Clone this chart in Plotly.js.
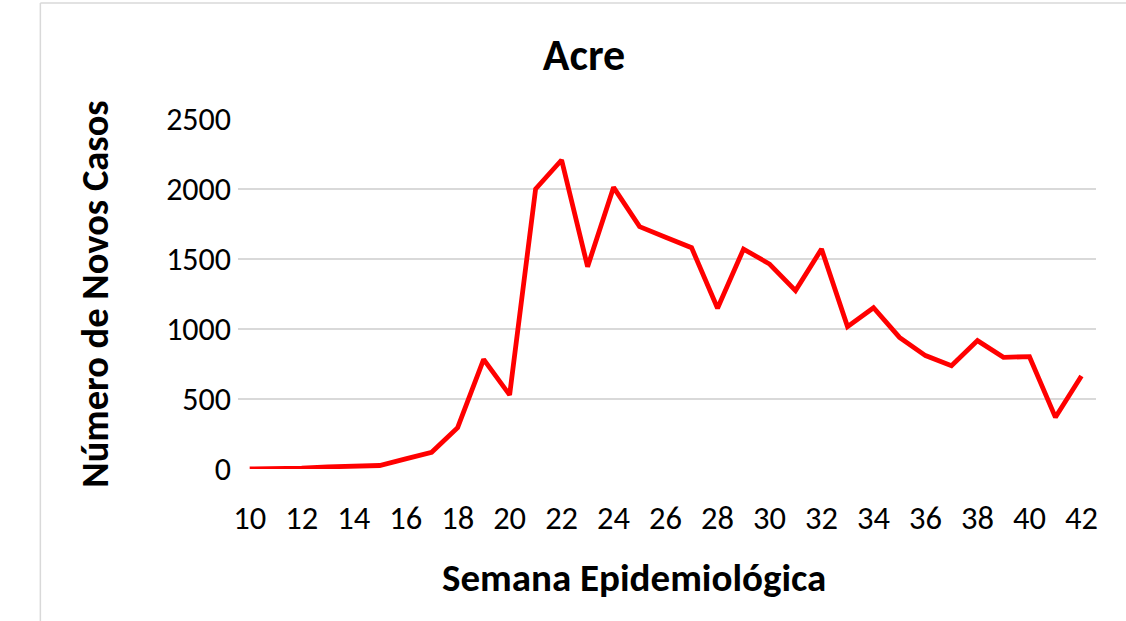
<!DOCTYPE html>
<html>
<head>
<meta charset="utf-8">
<script src="https://cdn.plot.ly/plotly-3.0.1.min.js"></script>
<style>html,body{margin:0;padding:0;background:#fff;}#chart{width:1126px;height:621px;}</style>
</head>
<body>
<div id="chart"></div>
<script>
var semanas = [10,11,12,13,14,15,16,17,18,19,20,21,22,23,24,25,26,27,28,29,30,31,32,33,34,35,36,37,38,39,40,41,42];
var novosCasos = [0,0,6,15,20,25,72,119,295,783,529,2000,2207,1445,2012,1731,1655,1581,1148,1571,1464,1274,1571,1017,1152,940,810,738,917,798,802,369,664];
var tickSemanas = [10,12,14,16,18,20,22,24,26,28,30,32,34,36,38,40,42];
var yTicks = [0,500,1000,1500,2000,2500];

var FONT = "Carlito, Lato, 'Open Sans', sans-serif";
var L = 237.7, R = 1096, T = 119, B = 469, W = 1126, H = 621;
var pw = R - L, ph = B - T;
function px2x(p){ return (p - L) / pw; }
function py2y(p){ return 1 - (p - T) / ph; }

var trace = {
  x: semanas, y: novosCasos, type: 'scatter', mode: 'lines',
  line: {color: '#FF0000', width: 4.8, shape: 'linear'},
  hoverinfo: 'x+y'
};

var layout = {
  width: W, height: H,
  margin: {l: L, r: W - R, t: T, b: H - B, pad: 0},
  paper_bgcolor: '#ffffff', plot_bgcolor: '#ffffff',
  showlegend: false,
  font: {family: FONT, color: '#000000', size: 32},
  title: {text: '<b>Acre</b>', font: {family: FONT, size: 44, color: '#000'},
          x: 584 / W, xref: 'container', xanchor: 'center',
          y: 1 - 55 / H, yref: 'container', yanchor: 'middle'},
  xaxis: {
    range: [9.55, 42.56], tickmode: 'array', tickvals: tickSemanas,
    ticktext: tickSemanas.map(String),
    showgrid: false, zeroline: false, showline: false, ticks: '',
    tickfont: {family: FONT, size: 32.5, color: '#000'},
    ticklabelstandoff: 26, fixedrange: true
  },
  yaxis: {
    range: [0, 2500], tickmode: 'array', tickvals: yTicks,
    ticktext: yTicks.map(String),
    showgrid: true, gridcolor: '#D9D9D9', gridwidth: 1.5,
    zeroline: false, showline: false, ticks: '',
    tickfont: {family: FONT, size: 32, color: '#000'},
    ticklabelstandoff: 6, fixedrange: true,
    title: {text: '<b>Número de Novos Casos</b>', font: {family: FONT, size: 38.5, color: '#000'}, standoff: 45}
  },
  annotations: [{
    text: '<b>Semana Epidemiológica</b>', showarrow: false,
    xref: 'paper', yref: 'paper', x: px2x(634), y: py2y(577),
    xanchor: 'center', yanchor: 'middle',
    font: {family: FONT, size: 39, color: '#000'}
  }],
  shapes: [
    {type: 'line', xref: 'paper', yref: 'paper', x0: px2x(40), x1: px2x(1130), y0: py2y(3), y1: py2y(3), line: {color: '#D9D9D9', width: 1.5}},
    {type: 'line', xref: 'paper', yref: 'paper', x0: px2x(40), x1: px2x(40), y0: py2y(3), y1: py2y(625), line: {color: '#D9D9D9', width: 1.5}}
  ]
};

Plotly.newPlot('chart', [trace], layout, {displayModeBar: false, staticPlot: true});
</script>
</body>
</html>
